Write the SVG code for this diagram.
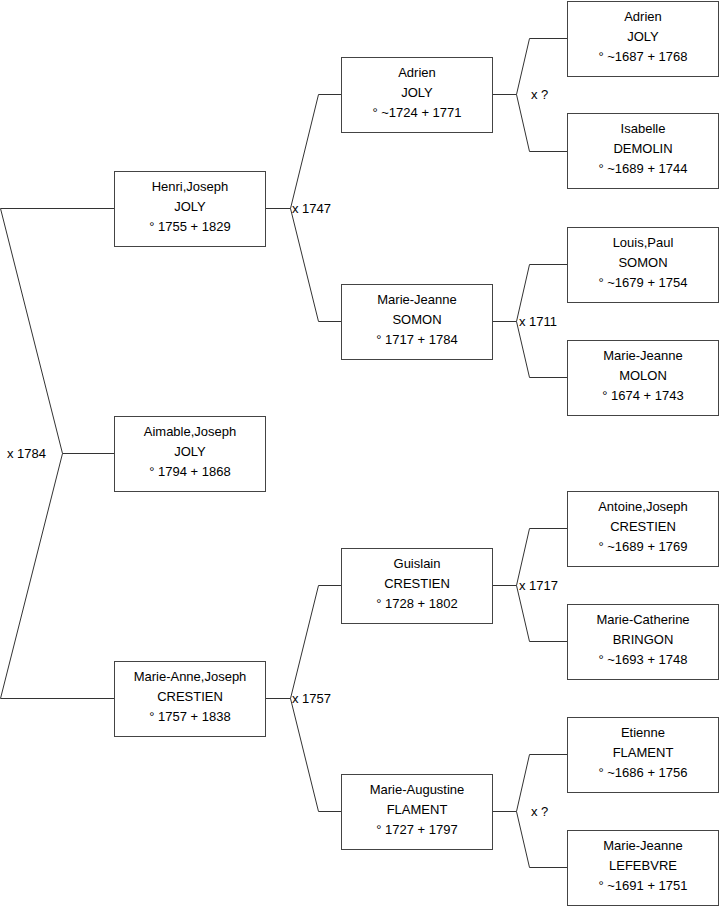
<svg xmlns="http://www.w3.org/2000/svg" width="719" height="908" viewBox="0 0 719 908">
<style>
rect.b{fill:#fff;stroke:#444;stroke-width:1}
text{font-family:"Liberation Sans",Arial,sans-serif;font-size:13px;fill:#000}
.n text{text-anchor:middle}
#connectors path{fill:none;stroke:#333;stroke-width:1}
</style>
<rect width="719" height="908" fill="#fff"/>
<g id="connectors">
<path d="M0.5,208.5H114 M0.5,208.5L62.5,453.5L0.5,698.5H114 M62.5,453.5H114"/>
<path d="M265,208.5H290.5L318.5,94.5H341 M290.5,208.5L318.5,321.5H341"/>
<path d="M265,698.5H290.5L318.5,585.5H341 M290.5,698.5L318.5,811.5H341"/>
<path d="M492,94.5H516.5L529.5,38.5H567 M516.5,94.5L529.5,151.5H567"/>
<path d="M492,321.5H516.5L529.5,264.5H567 M516.5,321.5L529.5,377.5H567"/>
<path d="M492,585.5H516.5L529.5,528.5H567 M516.5,585.5L529.5,641.5H567"/>
<path d="M492,811.5H516.5L529.5,754.5H567 M516.5,811.5L529.5,867.5H567"/>
<text x="7" y="458">x 1784</text>
<text x="292" y="213">x 1747</text>
<text x="292" y="703">x 1757</text>
<text x="531" y="99">x ?</text>
<text x="519" y="326">x 1711</text>
<text x="519" y="590">x 1717</text>
<text x="531" y="816">x ?</text>
</g>
<g id="n-henri" class="n" transform="translate(114,171)"><rect class="b" x="0.5" y="0.5" width="151" height="75"/><text x="76" y="20">Henri,Joseph</text><text x="76" y="40">JOLY</text><text x="76" y="59.5">° 1755 + 1829</text></g>
<g id="n-aimable" class="n" transform="translate(114,416)"><rect class="b" x="0.5" y="0.5" width="151" height="75"/><text x="76" y="20">Aimable,Joseph</text><text x="76" y="40">JOLY</text><text x="76" y="59.5">° 1794 + 1868</text></g>
<g id="n-marieanne" class="n" transform="translate(114,661)"><rect class="b" x="0.5" y="0.5" width="151" height="75"/><text x="76" y="20">Marie-Anne,Joseph</text><text x="76" y="40">CRESTIEN</text><text x="76" y="59.5">° 1757 + 1838</text></g>
<g id="n-adrien2" class="n" transform="translate(341,57)"><rect class="b" x="0.5" y="0.5" width="151" height="75"/><text x="76" y="20">Adrien</text><text x="76" y="40">JOLY</text><text x="76" y="59.5">° ~1724 + 1771</text></g>
<g id="n-mjsomon" class="n" transform="translate(341,284)"><rect class="b" x="0.5" y="0.5" width="151" height="75"/><text x="76" y="20">Marie-Jeanne</text><text x="76" y="40">SOMON</text><text x="76" y="59.5">° 1717 + 1784</text></g>
<g id="n-guislain" class="n" transform="translate(341,548)"><rect class="b" x="0.5" y="0.5" width="151" height="75"/><text x="76" y="20">Guislain</text><text x="76" y="40">CRESTIEN</text><text x="76" y="59.5">° 1728 + 1802</text></g>
<g id="n-maugustine" class="n" transform="translate(341,774)"><rect class="b" x="0.5" y="0.5" width="151" height="75"/><text x="76" y="20">Marie-Augustine</text><text x="76" y="40">FLAMENT</text><text x="76" y="59.5">° 1727 + 1797</text></g>
<g id="n-adrien3" class="n" transform="translate(567,1)"><rect class="b" x="0.5" y="0.5" width="151" height="75"/><text x="76" y="20">Adrien</text><text x="76" y="40">JOLY</text><text x="76" y="59.5">° ~1687 + 1768</text></g>
<g id="n-isabelle" class="n" transform="translate(567,113)"><rect class="b" x="0.5" y="0.5" width="151" height="75"/><text x="76" y="20">Isabelle</text><text x="76" y="40">DEMOLIN</text><text x="76" y="59.5">° ~1689 + 1744</text></g>
<g id="n-louis" class="n" transform="translate(567,227)"><rect class="b" x="0.5" y="0.5" width="151" height="75"/><text x="76" y="20">Louis,Paul</text><text x="76" y="40">SOMON</text><text x="76" y="59.5">° ~1679 + 1754</text></g>
<g id="n-mjmolon" class="n" transform="translate(567,340)"><rect class="b" x="0.5" y="0.5" width="151" height="75"/><text x="76" y="20">Marie-Jeanne</text><text x="76" y="40">MOLON</text><text x="76" y="59.5">° 1674 + 1743</text></g>
<g id="n-antoine" class="n" transform="translate(567,491)"><rect class="b" x="0.5" y="0.5" width="151" height="75"/><text x="76" y="20">Antoine,Joseph</text><text x="76" y="40">CRESTIEN</text><text x="76" y="59.5">° ~1689 + 1769</text></g>
<g id="n-mcatherine" class="n" transform="translate(567,604)"><rect class="b" x="0.5" y="0.5" width="151" height="75"/><text x="76" y="20">Marie-Catherine</text><text x="76" y="40">BRINGON</text><text x="76" y="59.5">° ~1693 + 1748</text></g>
<g id="n-etienne" class="n" transform="translate(567,717)"><rect class="b" x="0.5" y="0.5" width="151" height="75"/><text x="76" y="20">Etienne</text><text x="76" y="40">FLAMENT</text><text x="76" y="59.5">° ~1686 + 1756</text></g>
<g id="n-mjlefebvre" class="n" transform="translate(567,830)"><rect class="b" x="0.5" y="0.5" width="151" height="75"/><text x="76" y="20">Marie-Jeanne</text><text x="76" y="40">LEFEBVRE</text><text x="76" y="59.5">° ~1691 + 1751</text></g>
</svg>
